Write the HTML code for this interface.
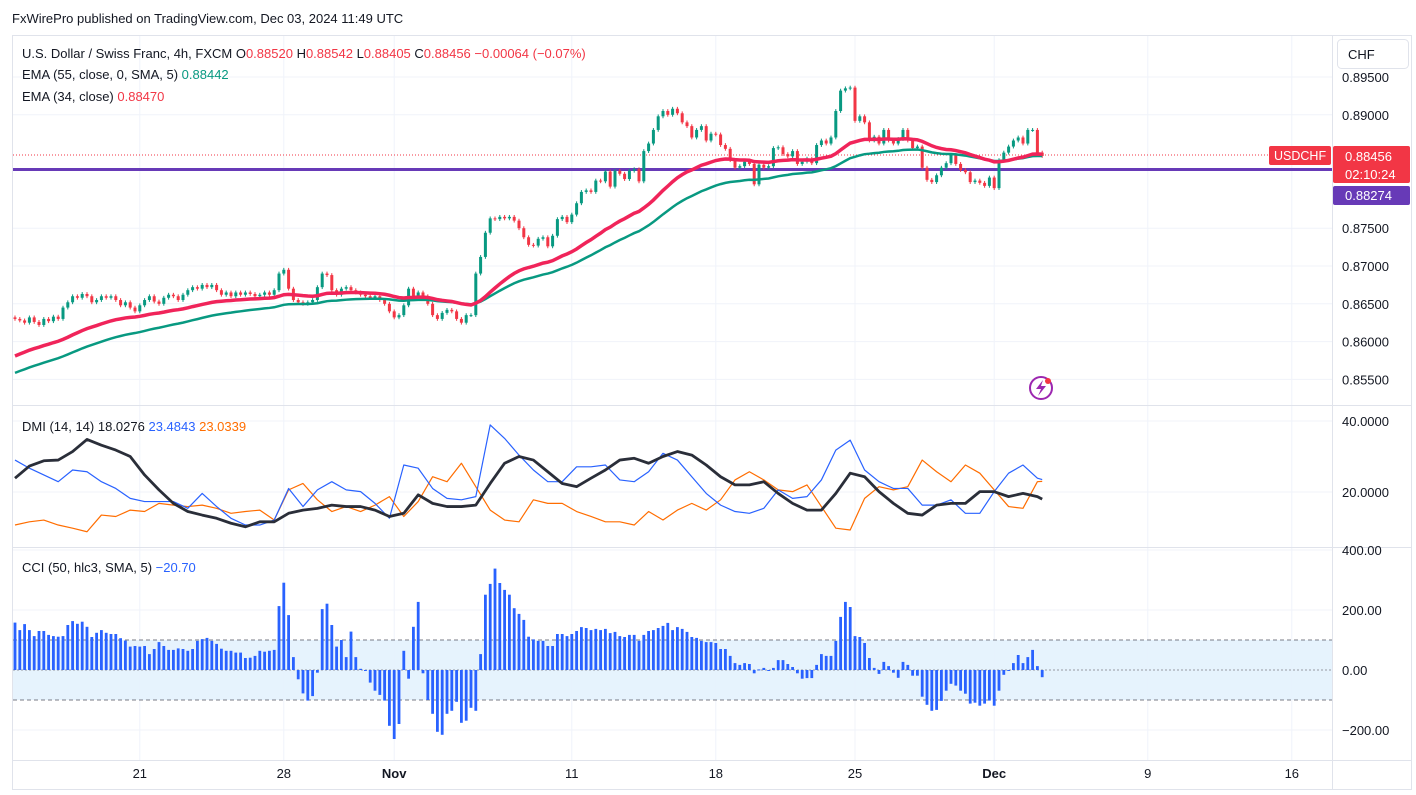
<!DOCTYPE html>
<html><head><meta charset="utf-8"><style>
html,body{margin:0;padding:0;background:#fff;}
svg{display:block;font-family:"Liberation Sans",sans-serif;}
</style></head><body>
<svg id="chart" width="1416" height="795" viewBox="0 0 1416 795" xmlns="http://www.w3.org/2000/svg">
<rect x="0" y="0" width="1416" height="795" fill="#fff"/>
<text x="12" y="23" font-size="13" fill="#131722">FxWirePro published on TradingView.com, Dec 03, 2024 11:49 UTC</text>
<rect x="12.5" y="35.5" width="1399" height="754" fill="none" stroke="#e0e3eb"/>
<g id="grid"></g>
<rect x="13" y="640" width="1319" height="60" fill="#e3f2fd" opacity="0.9"/>
<line x1="13" x2="1332" y1="640" y2="640" stroke="#787b86" stroke-dasharray="4,3"/>
<line x1="13" x2="1332" y1="700" y2="700" stroke="#787b86" stroke-dasharray="4,3"/>
<line x1="13" x2="1332" y1="670" y2="670" stroke="#9598a1" stroke-dasharray="2,2"/>
<line x1="13" x2="1412" y1="405.5" y2="405.5" stroke="#e0e3eb"/>
<line x1="13" x2="1412" y1="547.5" y2="547.5" stroke="#e0e3eb"/>
<line x1="13" x2="1412" y1="760.5" y2="760.5" stroke="#e0e3eb"/>
<line x1="1332.5" x2="1332.5" y1="36" y2="790" stroke="#e0e3eb"/>
<defs><clipPath id="pclip"><rect x="13" y="36" width="1319" height="369"/></clipPath>
<clipPath id="dclip"><rect x="13" y="406" width="1319" height="141"/></clipPath>
<clipPath id="cclip"><rect x="13" y="548" width="1319" height="212"/></clipPath></defs>
<line x1="13" x2="1332" y1="155" y2="155" stroke="#f23645" stroke-dasharray="1,2"/>
<line x1="13" x2="1332" y1="169.5" y2="169.5" stroke="#673ab7" stroke-width="3"/>
<g id="price" clip-path="url(#pclip)"></g>
<g id="dmi" clip-path="url(#dclip)"></g>
<g id="cci" clip-path="url(#cclip)"></g>
<g id="axes" font-size="13" fill="#131722"></g>
<text x="22" y="58" font-size="13" fill="#131722">U.S. Dollar / Swiss Franc, 4h, FXCM <tspan fill="#131722">O</tspan><tspan fill="#f23645">0.88520</tspan> H<tspan fill="#f23645">0.88542</tspan> L<tspan fill="#f23645">0.88405</tspan> C<tspan fill="#f23645">0.88456</tspan> <tspan fill="#f23645">−0.00064 (−0.07%)</tspan></text>
<text x="22" y="79" font-size="13" fill="#131722">EMA (55, close, 0, SMA, 5) <tspan fill="#089981">0.88442</tspan></text>
<text x="22" y="101" font-size="13" fill="#131722">EMA (34, close) <tspan fill="#f23645">0.88470</tspan></text>
<text x="22" y="431" font-size="13" fill="#131722">DMI (14, 14) 18.0276 <tspan fill="#2962ff">23.4843</tspan> <tspan fill="#ff6d00">23.0339</tspan></text>
<text x="22" y="572" font-size="13" fill="#131722">CCI (50, hlc3, SMA, 5) <tspan fill="#2962ff">−20.70</tspan></text>
<g><rect x="1337.5" y="39.5" width="71" height="29" rx="4" fill="#fff" stroke="#e0e3eb"/><text x="1348" y="59" font-size="13" fill="#131722">CHF</text></g>
<g><rect x="1269" y="146" width="62" height="19" rx="2" fill="#f23645"/><text x="1274" y="160" font-size="12.5" fill="#fff">USDCHF</text></g>
<g><rect x="1333" y="146" width="77" height="37" rx="2" fill="#f23645"/><text x="1345" y="161" font-size="13" fill="#fff">0.88456</text><text x="1345" y="179" font-size="13" fill="#fff">02:10:24</text></g>
<g><rect x="1333" y="186" width="77" height="19" rx="2" fill="#673ab7"/><text x="1345" y="200" font-size="13" fill="#fff">0.88274</text></g>
<g><circle cx="1041" cy="388" r="11" fill="#fff" stroke="#9c27b0" stroke-width="2"/><path d="M1043 380 L1036 389 L1041 389 L1038 396 L1046 386 L1041 386 Z" fill="#9c27b0"/><circle cx="1048" cy="381" r="3" fill="#f23645"/></g>
<script>
const closes=[
0.8630,0.8628,0.8625,0.8632,0.8626,0.8622,0.8630,0.8627,0.8633,0.8630,
0.8645,0.8652,0.8660,0.8658,0.8663,0.8660,0.8652,0.8655,0.8660,0.8658,
0.8660,0.8655,0.8648,0.8652,0.8645,0.8640,0.8648,0.8655,0.8660,0.8653,
0.8650,0.8658,0.8662,0.8660,0.8655,0.8662,0.8668,0.8672,0.8670,0.8675,
0.8672,0.8675,0.8668,0.8662,0.8665,0.8660,0.8665,0.8662,0.8665,0.8663,
0.8660,0.8662,0.8665,0.8662,0.8668,0.8690,0.8695,0.8670,0.8655,0.8652,
0.8650,0.8652,0.8655,0.8672,0.8690,0.8688,0.8668,0.8662,0.8670,0.8672,
0.8668,0.8665,0.8662,0.8660,0.8658,0.8660,0.8655,0.8650,0.8640,0.8632,
0.8635,0.8648,0.8670,0.8660,0.8665,0.8660,0.8650,0.8635,0.8630,0.8638,
0.8642,0.8640,0.8630,0.8625,0.8635,0.8635,0.8690,0.8712,0.8744,0.8763,
0.8762,0.8765,0.8763,0.8765,0.8760,0.8750,0.8738,0.8728,0.8727,0.8736,
0.8738,0.8726,0.8740,0.8762,0.8765,0.8758,0.8768,0.8783,0.8798,0.8800,
0.8798,0.8813,0.8812,0.8825,0.8805,0.8826,0.8822,0.8815,0.8826,0.8828,
0.8812,0.8852,0.8862,0.8880,0.8898,0.8905,0.8900,0.8908,0.8902,0.8890,
0.8885,0.8870,0.8880,0.8885,0.8866,0.8875,0.8874,0.8860,0.8855,0.8840,
0.8830,0.8832,0.8838,0.8835,0.8808,0.8834,0.8830,0.8832,0.8856,0.8857,
0.8848,0.8845,0.8852,0.8835,0.8838,0.8842,0.8836,0.8860,0.8866,0.8862,
0.8870,0.8905,0.8932,0.8935,0.8936,0.8892,0.8898,0.8890,0.8866,0.8871,
0.8862,0.8880,0.8866,0.8862,0.8868,0.8880,0.8866,0.8856,0.8858,0.8830,
0.8814,0.8811,0.8820,0.8830,0.8836,0.8847,0.8835,0.8827,0.8824,0.8811,
0.8813,0.8810,0.8806,0.8817,0.8803,0.8840,0.8850,0.8858,0.8866,0.8870,
0.8862,0.8880,0.8880,0.8850,0.88456];
const firstOpen=0.8632;
const ema34Seed=0.8578;
const ema55Seed=0.8556;
const cciValues=[
158,133,153,133,113,130,130,117,113,111,113,150,163,154,161,144,110,124,133,124,
120,120,106,98,78,80,78,80,53,70,93,80,67,67,72,70,64,70,97,103,
107,97,87,71,64,64,58,58,40,41,47,64,61,64,67,213,291,183,43,-31,
-78,-102,-87,-9,203,221,150,78,100,43,128,43,4,0,-42,-69,-83,-102,-186,-230,
-180,64,-29,144,227,-11,-100,-146,-206,-216,-146,-136,-106,-176,-169,-126,-136,53,251,287,
338,290,267,251,206,187,167,111,
102,97,97,80,80,120,120,113,120,130,143,140,133,137,133,137,123,127,113,110,
117,117,97,117,130,133,140,147,157,133,143,137,127,110,107,97,93,93,90,70,
70,47,23,17,23,20,-11,2,7,-3,7,33,33,20,10,-11,-29,-27,-27,17,
53,47,47,97,177,227,210,113,110,90,40,7,-13,27,13,-9,-26,27,17,-19,
-19,-89,-116,-136,-133,-103,-69,-46,-52,-69,-79,-112,-109,-119,-112,-102,-119,-69,-16,0,
23,50,23,43,67,13,-24];
const adxValues=[23.9,27.3,28.8,29.0,31.4,34.8,33.2,31.8,30.0,24.8,20.6,16.8,14.5,13.5,12.6,11.2,10.2,11.6,11.6,14.0,14.9,15.4,16.3,15.9,15.9,14.9,13.1,14.0,19.2,16.8,15.9,15.9,16.3,22.4,28.1,30.0,
29.0,25.7,22.4,21.5,23.9,26.2,29.0,29.5,28.1,30.0,31.4,30.4,27.6,24.3,22.0,22.0,22.9,19.6,16.8,14.9,14.9,19.6,25.3,24.3,20.1,16.8,14.0,13.5,16.3,16.8,16.8,20.1,20.1,18.7,19.6,18.7,18.0];
const plusDiValues=[29.0,26.7,24.8,22.9,26.2,25.7,22.9,21.0,18.2,17.3,17.3,17.3,15.4,19.6,15.9,12.6,10.7,10.7,12.1,21.0,15.9,20.6,22.9,20.6,20.1,16.8,12.6,27.6,26.7,21.0,18.2,17.8,18.7,38.9,35.1,30.4,
26.2,22.9,22.9,27.1,27.1,27.6,23.4,22.9,25.7,30.9,29.0,24.3,19.6,16.3,14.5,14.0,15.4,20.6,18.2,18.7,23.4,31.8,34.6,26.2,22.9,21.0,21.0,16.3,16.3,17.8,14.0,14.0,20.1,25.3,27.6,23.9,23.5];
const minusDiValues=[10.7,11.6,12.1,10.7,9.8,8.8,13.5,13.1,14.9,14.5,16.8,16.3,15.9,16.3,15.4,14.0,14.5,14.9,12.1,20.6,22.4,17.8,14.5,15.9,14.5,16.3,18.7,13.1,17.3,24.3,22.9,28.1,21.5,14.9,12.1,11.6,
17.8,16.8,16.8,14.5,13.1,11.6,11.6,10.7,14.5,12.1,14.9,16.8,14.9,17.8,23.4,25.7,23.4,20.6,20.1,22.0,15.9,9.8,9.3,18.2,21.5,20.6,21.5,29.0,25.7,22.9,27.6,25.3,20.6,15.9,15.4,22.9,23.0];
const priceTicks=["0.89500","0.89000","0.87500","0.87000","0.86500","0.86000","0.85500"];
const dmiTicks=["40.0000","20.0000"];
const cciTicks=["400.00","200.00","0.00","−200.00"];
const dateLabels=["21","28","Nov","11","18","25","Dec","9","16"];
const dateBars=[26,56,79,116,146,175,204,236,266];

const NS="http://www.w3.org/2000/svg";
const X0=15, DX=4.8, WICK=0.00025;
function xs(i){return X0+i*DX;}
function yp(p){return 77+(0.895-p)*7560;}
function yd(v){return 421+(40-v)*3.55;}
function yc(v){return 670-v*0.3;}
function mk(tag,attrs,parent){const e=document.createElementNS(NS,tag);for(const k in attrs)e.setAttribute(k,attrs[k]);parent.appendChild(e);return e;}
const gGrid=document.getElementById('grid'),gP=document.getElementById('price'),gD=document.getElementById('dmi'),gC=document.getElementById('cci'),gA=document.getElementById('axes');

dateBars.forEach((b,k)=>{const l=mk('line',{x1:xs(b),x2:xs(b),y1:36,y2:760,stroke:'#f0f3fa'},gGrid);


const t=mk('text',{x:xs(b),y:778,'text-anchor':'middle','font-size':13,fill:'#131722','font-weight':(dateLabels[k]==='Nov'||dateLabels[k]==='Dec')?'bold':'normal'},gA);t.textContent=dateLabels[k];

});
priceTicks.forEach(s=>{const y=yp(parseFloat(s));const l=mk('line',{x1:13,x2:1332,y1:y,y2:y,stroke:'#f0f3fa'},gGrid);


const t=mk('text',{x:1342,y:y+5,'font-size':13,fill:'#131722'},gA);t.textContent=s;

});
dmiTicks.forEach(s=>{const y=yd(parseFloat(s));const l=mk('line',{x1:13,x2:1332,y1:y,y2:y,stroke:'#f0f3fa'},gGrid);


const t=mk('text',{x:1342,y:y+5,'font-size':13,fill:'#131722'},gA);t.textContent=s;

});
cciTicks.forEach(s=>{const y=yc(parseFloat(s.replace('−','-')));const l=mk('line',{x1:13,x2:1332,y1:y,y2:y,stroke:'#f0f3fa'},gGrid);


const t=mk('text',{x:1342,y:y+5,'font-size':13,fill:'#131722'},gA);t.textContent=s;

});

let prev=firstOpen;
closes.forEach((c,i)=>{const o=prev;prev=c;const up=c>=o;const col=up?'#089981':'#f23645';
const x=xs(i);const hi=Math.max(o,c)+WICK,lo=Math.min(o,c)-WICK;
const w=mk('line',{x1:x,x2:x,y1:yp(hi),y2:yp(lo),stroke:col,'stroke-width':1},gP);


const top=yp(Math.max(o,c)),bot=yp(Math.min(o,c));
const r=mk('rect',{x:x-1.5,y:top,width:3,height:Math.max(1,bot-top),fill:col},gP);

});
function ema(seed,n){const a=2/(n+1);let e=seed;return closes.map(c=>(e=e+a*(c-e)));}
const e55=ema(ema55Seed,55),e34=ema(ema34Seed,34);
const pl55=mk('polyline',{points:e55.map((v,i)=>xs(i)+','+yp(v)).join(' '),fill:'none',stroke:'#089981','stroke-width':2.5},gP);


const pl34=mk('polyline',{points:e34.map((v,i)=>xs(i)+','+yp(v)).join(' '),fill:'none',stroke:'#f0245a','stroke-width':3.5},gP);


function dmiX(k,n){return xs(k===n-1?closes.length-1:k*3);}
function dmiLine(arr,col,w){return mk('polyline',{points:arr.map((v,k)=>dmiX(k,arr.length)+','+yd(v)).join(' '),fill:'none',stroke:col,'stroke-width':w,'stroke-linejoin':'round'},gD);}
const lm=dmiLine(minusDiValues,'#ff6d00',1.2);


const lp=dmiLine(plusDiValues,'#2962ff',1.2);


const la=dmiLine(adxValues,'#2a2e39',2.8);


cciValues.forEach((v,i)=>{const y0=yc(0),y1=yc(v);
const b=mk('rect',{x:xs(i)-1.4,y:Math.min(y0,y1),width:2.8,height:Math.max(1,Math.abs(y1-y0)),fill:'#2962ff'},gC);

});
</script>
</svg>
</body></html>
